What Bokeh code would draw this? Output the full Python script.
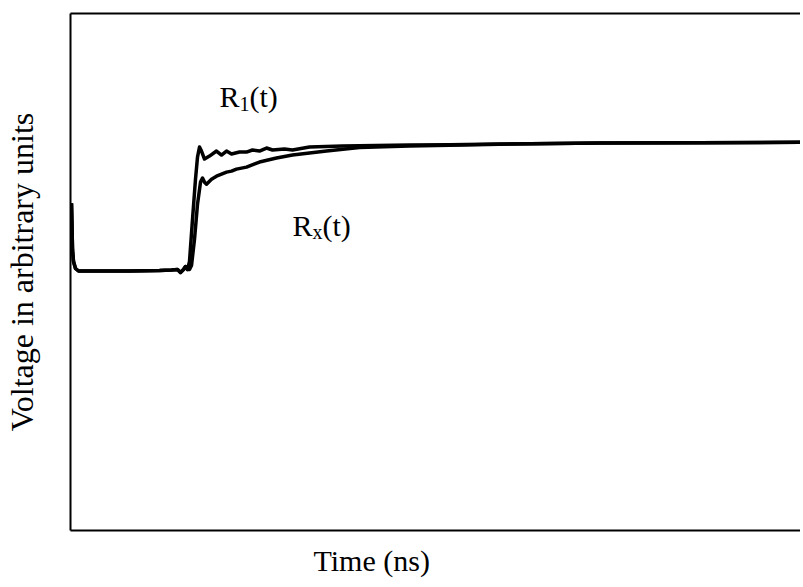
from bokeh.plotting import figure
from bokeh.models import Range1d, LinearAxis, Label, Title
from bokeh.embed import file_html
from bokeh.resources import INLINE

# Time in ns, voltage in arbitrary units
r1_time = [0.1, 0.15, 0.2, 0.3, 0.5, 0.8, 2.9, 5.9, 8.9, 10.1, 10.7, 11.0, 11.3, 11.5, 11.7,
           11.9, 12.2, 12.5, 12.7, 12.9, 13.1, 13.4, 13.9, 14.6, 15.1, 15.6, 16.1, 16.9, 17.6,
           18.2, 18.9, 19.6, 20.2, 21.4, 22.2, 23.9, 27.2, 33.9, 37.9, 42.9, 52.9, 62.9, 73.2]
r1_volt = [3.26, 3.05, 2.80, 2.68, 2.61, 2.585, 2.585, 2.585, 2.59, 2.595, 2.60, 2.57, 2.60, 2.63, 2.60,
           2.68, 3.10, 3.50, 3.72, 3.82, 3.78, 3.70, 3.73, 3.78, 3.74, 3.78, 3.75, 3.77, 3.77,
           3.79, 3.78, 3.81, 3.79, 3.80, 3.79, 3.82, 3.83, 3.84, 3.842, 3.85, 3.86, 3.863, 3.867]

rx_time = [0.1, 0.15, 0.2, 0.3, 0.5, 0.8, 2.9, 5.9, 8.9, 10.1, 10.7, 11.0, 11.3, 11.5, 11.7,
           11.9, 12.1, 12.4, 12.7, 13.0, 13.2, 13.4, 13.6, 14.1, 14.6, 15.1, 15.6, 16.1, 16.6,
           17.6, 18.9, 20.6, 22.2, 25.6, 28.9, 32.2, 33.9, 37.9, 42.9, 52.9, 62.9, 73.2]
rx_volt = [3.26, 3.05, 2.80, 2.68, 2.61, 2.585, 2.585, 2.585, 2.59, 2.595, 2.60, 2.57, 2.60, 2.63, 2.60,
           2.60, 2.64, 2.90, 3.25, 3.47, 3.51, 3.47, 3.45, 3.50, 3.53, 3.55, 3.57, 3.58, 3.60,
           3.62, 3.67, 3.71, 3.74, 3.78, 3.815, 3.825, 3.83, 3.837, 3.848, 3.86, 3.863, 3.867]

x_label = "Time (ns)"
y_label = "Voltage in arbitrary units"
FONT = "Liberation Serif"

p = figure(width=800, height=587, output_backend="svg", toolbar_location=None,
           x_range=Range1d(0, 73.0), y_range=Range1d(0, 5.15),
           min_border_left=70, min_border_top=13, min_border_right=0, min_border_bottom=57)
p.outline_line_color = None
p.grid.visible = False
p.background_fill_color = "white"
p.border_fill_color = "white"

for ax in [p.xaxis[0], p.yaxis[0]]:
    ax.ticker = []
    ax.major_tick_line_color = None
    ax.minor_tick_line_color = None
    ax.major_tick_out = 0
    ax.major_label_standoff = 0
    ax.axis_line_width = 2
    ax.axis_line_color = "black"

top = LinearAxis(ticker=[], major_tick_line_color=None, minor_tick_line_color=None,
                 axis_line_width=2, axis_line_color="black")
p.add_layout(top, "above")

p.yaxis[0].axis_label = y_label
p.yaxis[0].axis_label_text_font = FONT
p.yaxis[0].axis_label_text_font_size = "32px"
p.yaxis[0].axis_label_text_font_style = "normal"
p.yaxis[0].axis_label_text_color = "black"
p.yaxis[0].axis_label_standoff = 31

xt = Title(text=x_label, align="left", offset=243, standoff=22,
           text_font=FONT, text_font_size="30px", text_font_style="normal",
           text_color="black")
p.add_layout(xt, "below")

p.line(r1_time, r1_volt, line_color="black", line_width=3.5, line_join="round")
p.line(rx_time, rx_volt, line_color="black", line_width=3.5, line_join="round")

def lab(x, y, text, size):
    p.add_layout(Label(x=x, y=y, text=text, text_font=FONT, text_font_size=size,
                       text_color="black", text_baseline="alphabetic", text_align="left"))

lab(14.9, 4.32, "R", "30px")
lab(16.9, 4.25, "1", "20px")
lab(17.9, 4.32, "(t)", "30px")
lab(22.2, 3.04, "R", "30px")
lab(24.2, 2.97, "x", "20px")
lab(25.2, 3.04, "(t)", "30px")

open("out.html", "w").write(file_html(p, INLINE))
